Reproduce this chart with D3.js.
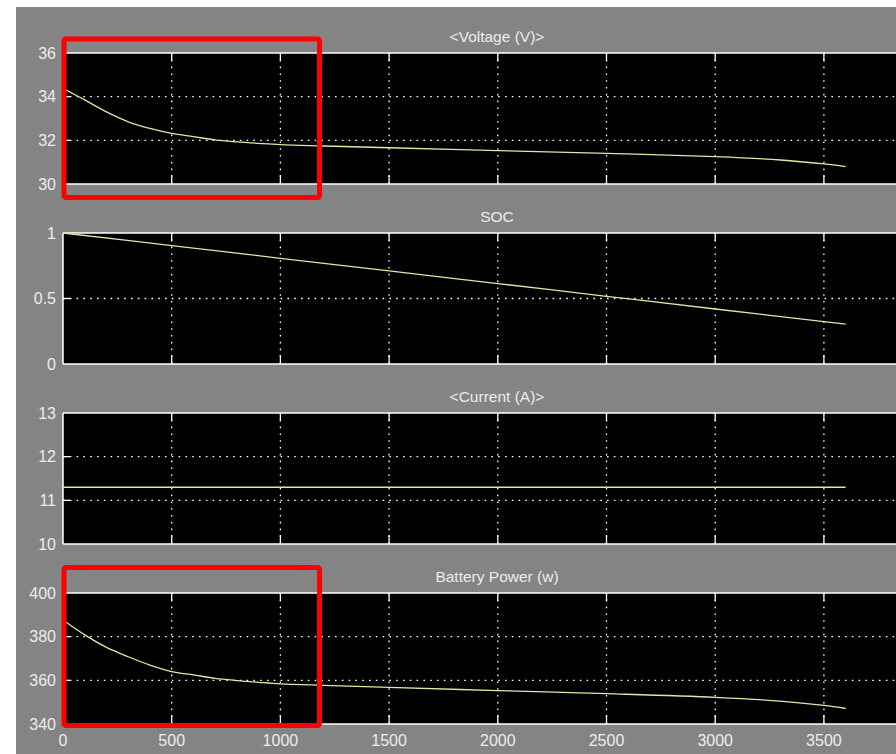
<!DOCTYPE html>
<html>
<head>
<meta charset="utf-8">
<script src="https://cdn.jsdelivr.net/npm/d3@7"></script>
<style>
  html, body { margin: 0; padding: 0; background: #fff; }
  svg { display: block; font-family: "Liberation Sans", Arial, sans-serif; }
</style>
</head>
<body>
<svg id="scope" width="896" height="754"></svg>
<script>
const W = 896, H = 754;

// data
const timeV = [0, 100, 200, 300, 400, 500, 600, 700, 800, 900, 1000, 1200, 1500, 2000, 2500, 3000, 3300, 3500, 3600];
const voltage = [34.38, 33.85, 33.3, 32.85, 32.55, 32.32, 32.17, 32.02, 31.93, 31.86, 31.8, 31.74, 31.66, 31.53, 31.4, 31.25, 31.1, 30.92, 30.8];
const power = [387.6, 380.8, 375.1, 370.8, 367.0, 364.0, 362.5, 360.9, 359.9, 359.1, 358.4, 357.7, 356.8, 355.3, 353.9, 352.2, 350.5, 348.5, 347.1];
const timeSOC = [0, 500, 1000, 1500, 2000, 2500, 3000, 3600];
const soc = [1, 0.904, 0.807, 0.711, 0.614, 0.517, 0.42, 0.305];
const timeI = [0, 3600];
const current = [11.3, 11.3];

const gridX = [500, 1000, 1500, 2000, 2500, 3000, 3500, 4000];
const xLabels = [0, 500, 1000, 1500, 2000, 2500, 3000, 3500];
const titles = ["<Voltage (V)>", "SOC", "<Current (A)>", "Battery Power (w)"];
const yTicks = [[30, 32, 34, 36], [0, 0.5, 1], [10, 11, 12, 13], [340, 360, 380, 400]];

const series = [
  timeV.map((t, i) => [t, voltage[i]]),
  timeSOC.map((t, i) => [t, soc[i]]),
  timeI.map((t, i) => [t, current[i]]),
  timeV.map((t, i) => [t, power[i]])
];

// layout
const left = 63, right = 932.6;
const panelTop = [53, 233, 413, 593];
const panelH = 131;
const gray = "#848484", fg = "#ececec", lineCol = "#e4e4a4";

const svg = d3.select("#scope");

svg.append("rect").attr("width", W).attr("height", H).attr("fill", "#fff");
svg.append("rect").attr("x", 16).attr("y", 7).attr("width", W - 16).attr("height", H - 7).attr("fill", gray);

const x = d3.scaleLinear().domain([0, 4000]).range([left, right]);

panelTop.forEach((top, k) => {
  const ticks = yTicks[k];
  const y = d3.scaleLinear().domain(d3.extent(ticks)).range([top + panelH, top]);
  const g = svg.append("g");

  g.append("rect")
    .attr("x", left).attr("y", top)
    .attr("width", right - left).attr("height", panelH)
    .attr("fill", "#000");

  // dotted grid
  g.selectAll(".vg").data(gridX).join("line")
    .attr("x1", d => x(d)).attr("x2", d => x(d))
    .attr("y1", top).attr("y2", top + panelH)
    .attr("stroke", "#fff").attr("stroke-width", 1.3)
    .attr("stroke-dasharray", "1.6,5.2");
  g.selectAll(".hg").data(ticks.slice(1, -1)).join("line")
    .attr("x1", left).attr("x2", right)
    .attr("y1", d => y(d)).attr("y2", d => y(d))
    .attr("stroke", "#fff").attr("stroke-width", 1.3)
    .attr("stroke-dasharray", "1.6,5.2");

  // tick marks inside the frame
  g.selectAll(".tt").data(gridX).join("line")
    .attr("x1", d => x(d)).attr("x2", d => x(d))
    .attr("y1", top).attr("y2", top + 8)
    .attr("stroke", "#fff").attr("stroke-width", 1.3);
  g.selectAll(".tb").data(gridX).join("line")
    .attr("x1", d => x(d)).attr("x2", d => x(d))
    .attr("y1", top + panelH - 9).attr("y2", top + panelH)
    .attr("stroke", "#fff").attr("stroke-width", 1.3);
  g.selectAll(".tl").data(ticks.slice(1, -1)).join("line")
    .attr("x1", left).attr("x2", left + 7)
    .attr("y1", d => y(d)).attr("y2", d => y(d))
    .attr("stroke", "#fff").attr("stroke-width", 1.3);

  // frame
  g.append("line").attr("x1", left).attr("x2", right).attr("y1", top).attr("y2", top)
    .attr("stroke", "#fff").attr("stroke-width", 1.5);
  g.append("line").attr("x1", left).attr("x2", right).attr("y1", top + panelH).attr("y2", top + panelH)
    .attr("stroke", "#fff").attr("stroke-width", 1.5);
  g.append("line").attr("x1", left).attr("x2", left).attr("y1", top).attr("y2", top + panelH)
    .attr("stroke", "#fff").attr("stroke-width", 1.5);

  // signal
  g.append("path")
    .datum(series[k])
    .attr("d", d3.line().x(d => x(d[0])).y(d => y(d[1])).curve(d3.curveCatmullRom.alpha(0.5)))
    .attr("fill", "none")
    .attr("stroke", lineCol)
    .attr("stroke-width", 1.3);

  // y labels
  g.selectAll(".yl").data(ticks).join("text")
    .attr("x", 56).attr("y", d => y(d))
    .attr("dy", "0.36em")
    .attr("text-anchor", "end")
    .attr("fill", fg)
    .attr("font-size", 16)
    .text(d => d);

  // title
  g.append("text")
    .attr("x", 497).attr("y", top - 11)
    .attr("text-anchor", "middle")
    .attr("fill", fg)
    .attr("font-size", 15.5)
    .text(titles[k]);
});

// x labels under the last panel
svg.selectAll(".xl").data(xLabels).join("text")
  .attr("x", d => x(d)).attr("y", 746)
  .attr("text-anchor", "middle")
  .attr("fill", fg)
  .attr("font-size", 16)
  .text(d => d);

// red highlight boxes (0 .. ~1180 s)
[[39, 197.5], [567.5, 725.5]].forEach(([y0, y1]) => {
  svg.append("rect")
    .attr("x", 64).attr("y", y0)
    .attr("width", x(1180) - 64).attr("height", y1 - y0)
    .attr("rx", 2)
    .attr("fill", "none")
    .attr("stroke", "#ff0000")
    .attr("stroke-width", 5);
});
</script>
</body>
</html>
